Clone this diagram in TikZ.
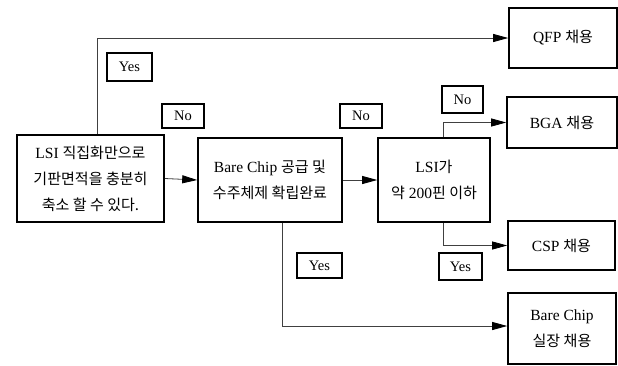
\documentclass[tikz,border=0pt]{standalone}
\usepackage{fontspec}
\setmainfont{Liberation Serif}
\newfontfamily\kr[Scale=0.97]{Noto Sans CJK KR}
\usetikzlibrary{arrows.meta}
\begin{document}
\begin{tikzpicture}[x=1pt,y=-1pt,
  box/.style={draw,line width=1.6pt,rectangle,inner sep=0pt,align=center,
    font=\fontsize{15.5}{26}\selectfont},
  lbl/.style={draw,line width=1.4pt,rectangle,inner sep=0pt,
    font=\fontsize{14.5}{16}\selectfont},
  conn/.style={draw=black!75,line width=0.8pt,
    -{Triangle[length=15pt,width=8pt,color=black]}}]
\useasboundingbox (0,0) rectangle (618,365);
\fill[white] (0,0) rectangle (618,365);

\node[box,minimum width=147pt,minimum height=87pt] (b1) at (90.5,178.5)
  {LSI {\kr 직집화만으로}\\{\kr 기판면적을 충분히}\\{\kr 축소 할 수 있다.}};
\node[box,minimum width=144pt,minimum height=84pt] (b2) at (270,180)
  {Bare Chip {\kr 공급 및}\\{\kr 수주체제 확립완료}};
\node[box,minimum width=112pt,minimum height=84pt] (b3) at (434,180)
  {LSI{\kr 가}\\{\kr 약} 200{\kr 핀 이하}};
\node[box,minimum width=108pt,minimum height=60pt] (qfp) at (563,38)
  {QFP {\kr 채용}};
\node[box,minimum width=110pt,minimum height=51pt] (bga) at (562,122.5)
  {BGA {\kr 채용}};
\node[box,minimum width=107pt,minimum height=49pt] (csp) at (561.5,245.5)
  {CSP {\kr 채용}};
\node[box,minimum width=108pt,minimum height=71pt] (bare) at (562,328.5)
  {Bare Chip\\{\kr 실장 채용}};

\node[lbl,minimum width=45pt,minimum height=28pt] (yes1) at (129.5,67) {Yes};
\node[lbl,minimum width=42pt,minimum height=24pt] (no1) at (183,116) {No};
\node[lbl,minimum width=42pt,minimum height=24pt] (no2) at (361,116) {No};
\node[lbl,minimum width=41pt,minimum height=27pt] (no3) at (462.5,99.5) {No};
\node[lbl,minimum width=45pt,minimum height=25pt] (yes2) at (319.5,265.5) {Yes};
\node[lbl,minimum width=43pt,minimum height=27pt] (yes3) at (460.5,266.5) {Yes};

\draw[conn] (b1.east) -- (b2.west);
\draw[conn] (b2.east) -- (b3.west);
\draw[conn] ([xshift=6.5pt]b1.north) |- (qfp.west);
\draw[conn] ([xshift=12pt]b2.south) |- ([yshift=2.5pt]bare.west);
\draw[conn] ([xshift=9pt]b3.north) |- (bga.west);
\draw[conn] ([xshift=9pt]b3.south) |- (csp.west);
\end{tikzpicture}
\end{document}
